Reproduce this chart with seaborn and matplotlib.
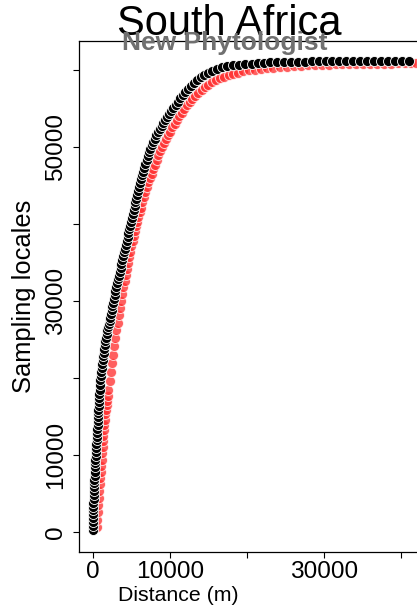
import numpy as np
import pandas as pd
import matplotlib
matplotlib.use("Agg")
import matplotlib.pyplot as plt
import seaborn as sns

# ---- data ----
black_x = [0, 0, 10, 20, 30, 40, 50, 60, 80, 100, 120, 140, 160, 180, 200, 230, 260,
           290, 320, 350, 380, 410, 440, 470, 500, 530,
           560, 590, 620, 650, 680, 710, 740, 770, 800,
           840, 880, 920, 970, 1020, 1070, 1120, 1180,
           1240, 1310, 1380, 1450, 1530, 1610, 1690,
           1780, 1870, 1960, 2050, 2150, 2250,
           2340, 2430, 2520, 2600,
           2700, 2810, 2920, 3030, 3140, 3250, 3360, 3470, 3580, 3700,
           3820, 3930, 4050, 4160, 4270, 4380, 4500, 4610, 4730,
           4850, 4960, 5070, 5180, 5290, 5400, 5510, 5620, 5740,
           5870, 6000, 6130, 6260, 6390, 6520, 6650,
           6800, 6960, 7120, 7290, 7460, 7640, 7820,
           8020, 8230, 8450, 8670, 8900, 9130, 9370, 9620,
           9880, 10150, 10430, 10720, 11020, 11330, 11650, 11990,
           12350, 12720, 13110, 13530, 13980,
           14450, 14950, 15500, 16100,
           16750, 17450, 18200, 19000,
           19800, 20600, 21400, 22200, 23000, 23900,
           24800, 25700, 26600, 27500, 28400, 29300, 30200, 31100, 32000, 32900,
           33800, 34700, 35600, 36500, 37400, 38300, 39200, 40100, 41000]
black_y = [300, 800, 1300, 1800, 2300, 2800, 3300, 3800, 4300, 4800, 5300, 5800, 6300, 6800, 7300, 7800, 8400,
           8900, 9400, 9900, 10400, 10900, 11400, 11900, 12400, 12900,
           13400, 13900, 14400, 14900, 15400, 15900, 16400, 16900, 17400,
           17900, 18500, 19100, 19700, 20300, 20800, 21300, 21800,
           22300, 22800, 23300, 23800, 24300, 24800, 25200,
           25700, 26200, 26600, 27000, 27400, 27800,
           28300, 28800, 29300, 29800,
           30300, 30800, 31300, 31800, 32300, 32800, 33300, 33800, 34300, 34800,
           35300, 35800, 36300, 36800, 37300, 37800, 38300, 38800, 39300,
           39800, 40300, 40800, 41300, 41800, 42300, 42800, 43300, 43800,
           44300, 44800, 45300, 45800, 46300, 46800, 47300,
           47800, 48300, 48800, 49300, 49800, 50300, 50700,
           51100, 51500, 51900, 52300, 52700, 53100, 53500, 53900,
           54300, 54700, 55100, 55500, 55900, 56300, 56700, 57100,
           57500, 57900, 58300, 58700, 59050,
           59350, 59650, 59900, 60150,
           60350, 60500, 60600, 60680,
           60750, 60820, 60880, 60940, 60990, 61040,
           61060, 61080, 61090, 61100, 61110, 61120, 61130, 61140, 61145, 61150,
           61155, 61160, 61165, 61170, 61170, 61175, 61180, 61180, 61185]

red_x = [520, 580, 640, 700, 760, 820, 880, 940, 1000, 1060, 1120, 1180, 1240, 1300,
         1360, 1420, 1480, 1550, 1620, 1690, 1760, 1830,
         1900, 2000, 2150, 2300, 2450, 2600, 2750, 2900, 3050, 3200, 3350, 3500,
         3650, 3800, 3950, 4100, 4250, 4400, 4550, 4700, 4850, 5000, 5150, 5300,
         5450, 5600, 5750, 5900, 6050, 6200, 6400, 6600, 6800, 7000, 7200, 7400,
         7600, 7800, 8000, 8250, 8500, 8750, 9000, 9250, 9500, 9750,
         10000, 10300, 10600, 10900, 11200, 11500, 11850, 12200, 12550, 12900,
         13300, 13700, 14100, 14550, 15000, 15500, 16000, 16500, 17000, 17600,
         18200, 18800, 19500, 20200, 21000, 21800, 22600, 23400, 24300, 25200,
         26100, 27000, 27900, 28800, 29700, 30600, 31500, 32400, 33300, 34200,
         35100, 36000, 36900, 37800, 38700, 39600, 40500, 41300, 41900]
red_y = [600, 1600, 2600, 3500, 4400, 5300, 6200, 7000, 7800, 8600, 9400, 10200, 11000, 11800,
         12500, 13200, 13900, 14600, 15300, 15900, 16500, 17000,
         17600, 18400, 19600, 20800, 21900, 23000, 24100, 25200, 26200, 27200, 28200, 29100,
         30000, 30900, 31800, 32600, 33400, 34200, 35000, 35700, 36400, 37100, 37800, 38500,
         39100, 39700, 40300, 40900, 41500, 42100, 42800, 43500, 44100, 44800, 45400, 46000,
         46500, 47100, 47600, 48300, 48900, 49500, 50000, 50500, 51000, 51500,
         52000, 52550, 53050, 53550, 54020, 54460, 54950, 55400, 55820, 56220,
         56650, 57050, 57400, 57750, 58070, 58380, 58660, 58900, 59100, 59320,
         59510, 59670, 59820, 59940, 60060, 60160, 60240, 60310, 60380, 60440,
         60500, 60550, 60590, 60630, 60660, 60690, 60720, 60740, 60760, 60780,
         60800, 60810, 60820, 60830, 60840, 60850, 60860, 60870, 60880]

title_text = "South Africa"
journal_text = "New Phytologist"
x_label = "Distance (m)"
y_label = "Sampling locales"
x_ticks = [0, 10000, 20000, 30000, 40000]
x_ticklabels = ["0", "10000", "", "30000", ""]
y_ticks = [0, 10000, 20000, 30000, 40000, 50000, 60000]
y_ticklabels = ["0", "10000", "", "30000", "", "50000", ""]

# ---- drawing ----
sns.set_theme(style="white")
plt.rcParams["font.family"] = ["Liberation Sans", "DejaVu Sans"]

W, H = 417, 606
fig = plt.figure(figsize=(W / 100, H / 100), dpi=100)
ax = fig.add_axes([79 / W, (H - 552) / H, 361 / W, 511 / H])

red_df = pd.DataFrame({"x": red_x, "y": red_y})
black_df = pd.DataFrame({"x": black_x, "y": black_y})
sns.scatterplot(data=red_df, x="x", y="y", ax=ax, color="#ff2a2a", alpha=0.75,
                s=52, edgecolor="white", linewidth=0.7, zorder=2, clip_on=False)
sns.scatterplot(data=black_df, x="x", y="y", ax=ax, color="black",
                s=52, edgecolor="white", linewidth=0.6, zorder=3, clip_on=False)

ax.set_xlim(-1818, 45065)
ax.set_ylim(-2597, 63766)

for side in ["left", "bottom", "top"]:
    ax.spines[side].set_visible(True)
    ax.spines[side].set_color("black")
    ax.spines[side].set_linewidth(0.9)
ax.spines["right"].set_visible(False)

ax.set_xticks(x_ticks)
ax.set_xticklabels(x_ticklabels)
ax.set_yticks(y_ticks)
ax.set_yticklabels(y_ticklabels, rotation=90, va="center")
ax.tick_params(axis="both", which="major", direction="out", length=4.3, width=0.8,
               color="black", labelsize=17.6, labelcolor="black",
               bottom=True, left=True, top=False, right=False)
ax.tick_params(axis="y", pad=4.3)
ax.tick_params(axis="x", pad=2.5)

ax.set_xlabel(x_label, fontsize=15.3, color="black")
ax.xaxis.set_label_coords(0.274, -0.066)
ax.xaxis.label.set_va("top")
ax.set_ylabel(y_label, fontsize=18.4, color="black")
ax.yaxis.set_label_coords(-0.12, 0.5)

fig.text(229 / W, (H - 35) / H, title_text, fontsize=30, ha="center",
         va="baseline", color="black")
fig.text(225 / W, (H - 50) / H, journal_text, fontsize=19, fontweight="bold",
         ha="center", va="baseline", color="#707070", zorder=10)

fig.savefig("out.png", dpi=100)
